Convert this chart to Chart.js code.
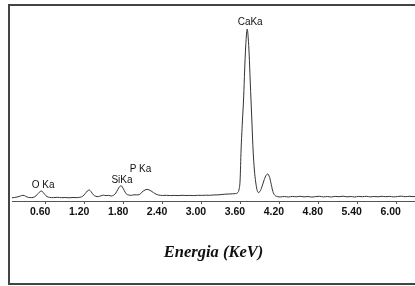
<!DOCTYPE html>
<html>
<head>
<meta charset="utf-8">
<script src="https://cdn.jsdelivr.net/npm/chart.js@4/dist/chart.umd.min.js"></script>
<style>
html,body{margin:0;padding:0;background:#fff;}
canvas{display:block;}
</style>
</head>
<body>
<canvas id="c" width="415" height="286"></canvas>
<script>
// Spectrum: energy (keV) and counts (arbitrary units)
const energies = [
  0.08,0.12,0.17,0.21,0.25,0.29,0.33,0.38,0.43,0.47,0.50,0.53,0.56,0.59,0.62,0.66,0.72,0.78,0.84,0.90,
  0.96,1.02,1.08,1.13,1.17,1.21,1.24,1.27,1.30,1.33,1.37,1.41,1.45,1.49,1.53,1.57,1.61,1.65,1.68,1.71,
  1.74,1.76,1.78,1.81,1.84,1.88,1.92,1.96,2.00,2.04,2.07,2.10,2.13,2.16,2.19,2.22,2.26,2.30,2.34,2.40,
  2.46,2.52,2.58,2.64,2.70,2.76,2.82,2.88,2.94,3.00,3.06,3.12,3.18,3.24,3.30,3.36,3.42,3.48,3.52,3.56,
  3.58,3.595,3.61,3.63,3.65,3.665,3.68,3.695,3.705,3.72,3.735,3.75,3.765,3.78,3.795,3.815,3.835,3.855,3.875,3.90,
  3.93,3.96,3.99,4.02,4.05,4.075,4.10,4.13,4.17,4.22,4.28,4.34,4.40,4.46,4.52,4.58,4.64,4.70,4.76,4.82,
  4.88,4.94,5.00,5.06,5.12,5.18,5.24,5.30,5.36,5.42,5.48,5.54,5.60,5.66,5.72,5.78,5.84,5.90,5.96,6.02,
  6.08,6.14,6.20,6.26,6.30
];
const counts = [
  32,35,42,50,57,48,36,34,42,65,87,100,87,62,44,36,34,37,33,35,
  32,35,34,38,48,75,100,110,92,65,47,44,52,58,54,56,50,60,80,115,
  145,153,140,105,72,60,56,62,61,64,80,98,110,116,112,102,84,68,60,55,
  57,54,56,54,57,55,56,54,57,56,58,57,60,61,64,68,70,72,74,85,
  120,210,510,790,1040,1310,1530,1680,1720,1630,1460,1210,980,740,510,310,190,115,85,95,
  140,200,250,270,235,165,95,57,44,41,45,40,46,42,47,41,45,39,44,47,
  41,45,40,46,43,48,42,45,40,46,43,47,41,45,42,47,43,46,41,45,
  48,43,47,44,46
];
const tickValues = [0.6,1.2,1.8,2.4,3.0,3.6,4.2,4.8,5.4,6.0];
const tickLabels = ['0.60','1.20','1.80','2.40','3.00','3.60','4.20','4.80','5.40','6.00'];
const peakLabels = ['O Ka','SiKa','P Ka','CaKa'];
const peakLabelEnergies = [0.56,1.775,2.06,3.75];
const peakLabelCounts = [160,210,320,1790];
const axisTitle = 'Energia (KeV)';

const framePlugin = {
  id:'frame',
  beforeDraw(chart){
    const ctx = chart.ctx;
    ctx.save();
    ctx.fillStyle = '#fff';
    ctx.fillRect(0,0,chart.width,chart.height);
    ctx.strokeStyle = '#444';
    ctx.lineWidth = 2;
    ctx.beginPath();
    ctx.moveTo(415,5);
    ctx.lineTo(9,5);
    ctx.lineTo(9,284);
    ctx.lineTo(415,284);
    ctx.stroke();
    ctx.restore();
  }
};
const peakLabelPlugin = {
  id:'peakLabels',
  afterDatasetsDraw(chart){
    const ctx = chart.ctx, xs = chart.scales.x, ys = chart.scales.y;
    ctx.save();
    ctx.font = '10px "Liberation Sans", Arial, sans-serif';
    ctx.fillStyle = '#111';
    ctx.textAlign = 'center';
    ctx.textBaseline = 'middle';
    peakLabels.forEach((t,i)=>{
      ctx.fillText(t, xs.getPixelForValue(peakLabelEnergies[i]), ys.getPixelForValue(peakLabelCounts[i]));
    });
    ctx.restore();
  }
};

new Chart(document.getElementById('c'), {
  type:'line',
  data:{
    datasets:[{
      data: energies.map((e,i)=>({x:e,y:counts[i]})),
      borderColor:'#333',
      borderWidth:1,
      pointRadius:0,
      fill:false,
      cubicInterpolationMode:'monotone'
    }]
  },
  options:{
    responsive:false,
    animation:false,
    layout:{padding:{left:12,right:0,top:11,bottom:23}},
    plugins:{legend:{display:false},tooltip:{enabled:false}},
    scales:{
      x:{
        type:'linear',
        min:0.08, max:6.29,
        afterBuildTicks(scale){ scale.ticks = tickValues.map(v=>({value:v})); },
        afterFit(scale){ scale.height = 62; },
        ticks:{
          callback:(v)=>{ const i = tickValues.findIndex(t=>Math.abs(t-v)<1e-6); return i>=0?tickLabels[i]:''; },
          font:{family:'"Liberation Sans", Arial, sans-serif', size:10.5, weight:'bold'},
          color:'#111',
          padding:2,
          labelOffset:-5.5,
          maxRotation:0,
          autoSkip:false
        },
        grid:{drawOnChartArea:false, drawTicks:true, tickLength:3, color:'#555'},
        border:{display:true, color:'#555', width:1},
        title:{
          display:true,
          text:axisTitle,
          font:{family:'"Liberation Serif", "Times New Roman", serif', size:16.5, weight:'bold', style:'italic'},
          color:'#111',
          padding:{top:22.5, bottom:0}
        }
      },
      y:{
        display:false,
        min:0, max:1900
      }
    }
  },
  plugins:[framePlugin, peakLabelPlugin]
});
</script>
</body>
</html>
